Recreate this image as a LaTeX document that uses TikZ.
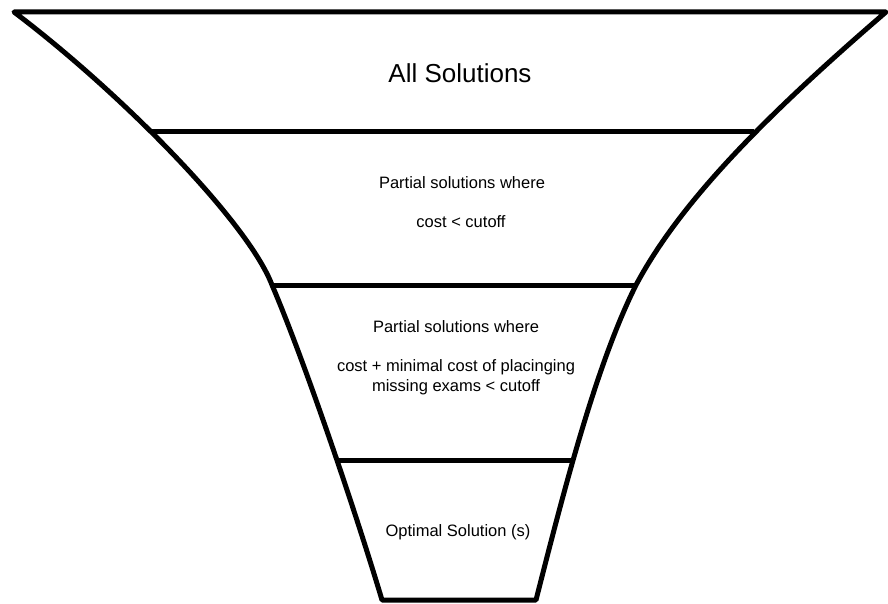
\documentclass[tikz,border=0pt]{standalone}
\usepackage{fontspec}
\setmainfont{Liberation Sans}
\begin{document}
\begin{tikzpicture}[x=1pt,y=-1pt,line width=5pt,line join=round,
    txt/.style={font=\fontsize{16.5}{20}\selectfont,align=center,inner sep=0pt},
    big/.style={font=\fontsize{26}{30}\selectfont,inner sep=0pt}]
    \useasboundingbox (0,0) rectangle (888,604);
    % corners of the funnel
    \coordinate (l0) at (14,12);
    \coordinate (l2) at (272,285);
    \coordinate (l4) at (382,600);
    \coordinate (r0) at (886,12);
    \coordinate (r2) at (636,285);
    \coordinate (r4) at (536,600);
    % ends of the inner lines
    \coordinate (l1) at (152,132);
    \coordinate (r1) at (754,132);
    \coordinate (l3) at (339,460);
    \coordinate (r3) at (571,460);

    % funnel outline
    \draw (l0) -- (r0)
        .. controls (751,128) and (676,210) .. (r2)
        .. controls (596,365) and (564,490) .. (r4)
        -- (l4)
        .. controls (352,500) and (302,355) .. (l2)
        .. controls (248,222) and (120,92) .. (l0) -- cycle;
    \draw (l1) -- (r1);
    \draw (l2) -- (r2);
    \draw (l3) -- (r3);

    % labels
    \node[big] (all) at (460,73) {All Solutions};
    \node[txt] (part1) at (462,183) {Partial solutions where};
    \node[txt] (cost1) at (461,222) {cost < cutoff};
    \node[txt] (part2) at (456,327) {Partial solutions where};
    \node[txt] (cost2) at (456,377) {cost + minimal cost of placinging\\missing exams < cutoff};
    \node[txt] (opt) at (458,532) {Optimal Solution (s)};
\end{tikzpicture}
\end{document}
